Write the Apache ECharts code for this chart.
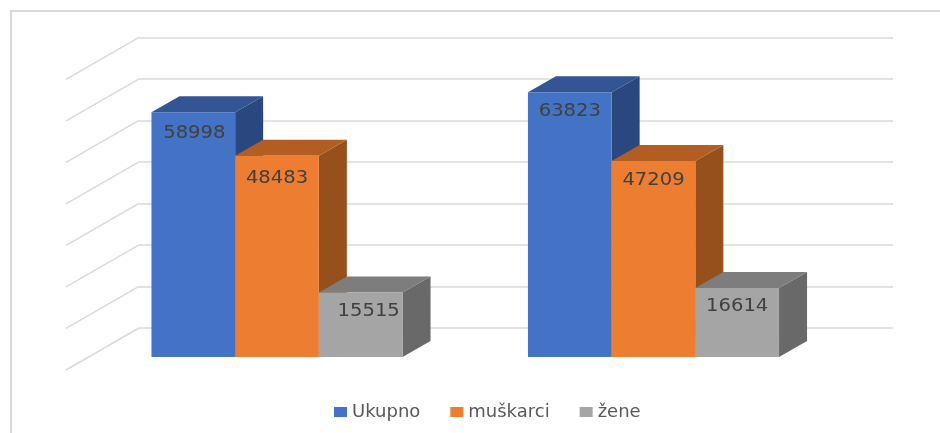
<!DOCTYPE html>
<html>
<head>
<meta charset="utf-8">
<style>
    html, body { margin: 0; padding: 0; background: #fff; }
    #chart { width: 940px; height: 433px; }
</style>
<script src="https://cdn.jsdelivr.net/npm/echarts@6/dist/echarts.min.js"></script>
</head>
<body>
<div id="chart"></div>
<script>
const groups = ['1', '2']
const ukupno = [58998, 63823]
const muskarci = [48483, 47209]
const zene = [15515, 16614]
const wallTicks = [0, 10000, 20000, 30000, 40000, 50000, 60000, 70000]

// 3d look: how far the box goes back, and the shaded faces
const depthX = 28
const depthY = 16
const barShare = 0.2223
const font = 'DejaVu Sans'

function box3d(color, top, side, seriesPos, labelNudge) {
    return function (params, api) {
        const cat = api.value(0)
        const val = api.value(1)
        const w = api.size([1, 0])[0] * barShare
        const base = api.coord([cat, 0])
        const head = api.coord([cat, val])
        const x0 = base[0] + (seriesPos - 1.5) * w
        const x1 = x0 + w
        const y0 = base[1]
        const y1 = head[1]
        const nudge = labelNudge[cat]
        return {
            type: 'group',
            children: [
                {type: 'polygon', shape: {points: [[x1, y0], [x1 + depthX, y0 - depthY], [x1 + depthX, y1 - depthY], [x1, y1]]}, style: {fill: side}},
                {type: 'polygon', shape: {points: [[x0, y1], [x0 + depthX, y1 - depthY], [x1 + depthX, y1 - depthY], [x1, y1]]}, style: {fill: top}},
                {type: 'rect', shape: {x: x0, y: y1, width: w, height: y0 - y1}, style: {fill: color}},
                {
                    type: 'text',
                    x: (x0 + x1) / 2 + nudge[0],
                    y: y1 + 21 + nudge[1],
                    scaleX: 1.15,
                    style: {text: String(val), fill: '#404040', font: '17px "' + font + '"', textAlign: 'center', textVerticalAlign: 'middle'}
                }
            ]
        }
    }
}

function sideWall(params, api) {
    const p = api.coord([0, api.value(0)])
    const x = params.coordSys.x
    return {
        type: 'line',
        shape: {x1: x, y1: p[1], x2: x - 73, y2: p[1] + 42},
        style: {stroke: '#D9D9D9', lineWidth: 1.5}
    }
}

function barSeries(name, values, color, top, side, pos, nudge) {
    return {
        name,
        type: 'custom',
        xAxisIndex: 1,
        yAxisIndex: 1,
        itemStyle: {color},
        data: values.map((v, i) => [i, v]),
        encode: {x: 0, y: 1},
        renderItem: box3d(color, top, side, pos, nudge),
        z: 3
    }
}

const myChart = echarts.init(document.getElementById('chart'))

myChart.setOption({
    animation: false,
    backgroundColor: '#fff',
    textStyle: {fontFamily: font},
    graphic: [
        {type: 'rect', shape: {x: 11, y: 11, width: 1000, height: 1000}, style: {fill: 'none', stroke: '#D9D9D9', lineWidth: 2}, silent: true}
    ],
    legend: {
        left: 329,
        top: 398,
        itemWidth: 13,
        itemHeight: 10,
        itemGap: 30,
        icon: 'rect',
        selectedMode: false,
        data: ['Ukupno', 'muškarci', 'žene'],
        textStyle: {color: '#595959', fontSize: 18, fontFamily: font}
    },
    grid: [
        // back wall
        {left: 139, top: 37.3, width: 754, height: 290.7},
        // plane of the bar fronts
        {left: 88.75, top: 66.5, width: 753, height: 290.5}
    ],
    xAxis: [
        {gridIndex: 0, type: 'category', data: groups, axisLine: {show: false}, axisTick: {show: false}, axisLabel: {show: false}},
        {gridIndex: 1, type: 'category', data: groups, axisLine: {show: false}, axisTick: {show: false}, axisLabel: {show: false}}
    ],
    yAxis: [
        {gridIndex: 0, type: 'value', min: 0, max: 70000, interval: 10000, axisLabel: {show: false}, axisLine: {show: false}, axisTick: {show: false},
            splitLine: {show: true, lineStyle: {color: '#D9D9D9', width: 1.5}}},
        {gridIndex: 1, type: 'value', min: 0, max: 70000, interval: 10000, axisLabel: {show: false}, axisLine: {show: false}, axisTick: {show: false}, splitLine: {show: false}}
    ],
    series: [
        {type: 'custom', xAxisIndex: 0, yAxisIndex: 0, data: wallTicks.map(v => [v]), encode: {y: 0}, renderItem: sideWall, silent: true, z: 1},
        barSeries('Ukupno', ukupno, '#4472C4', '#335593', '#2A4780', 0, [[1, 0], [0, -2]]),
        barSeries('muškarci', muskarci, '#ED7D31', '#B25E22', '#96501C', 1, [[0, 2], [0, -2]]),
        barSeries('žene', zene, '#A5A5A5', '#7D7D7D', '#696969', 2, [[8, -2], [0, -2]])
    ]
})
</script>
</body>
</html>
